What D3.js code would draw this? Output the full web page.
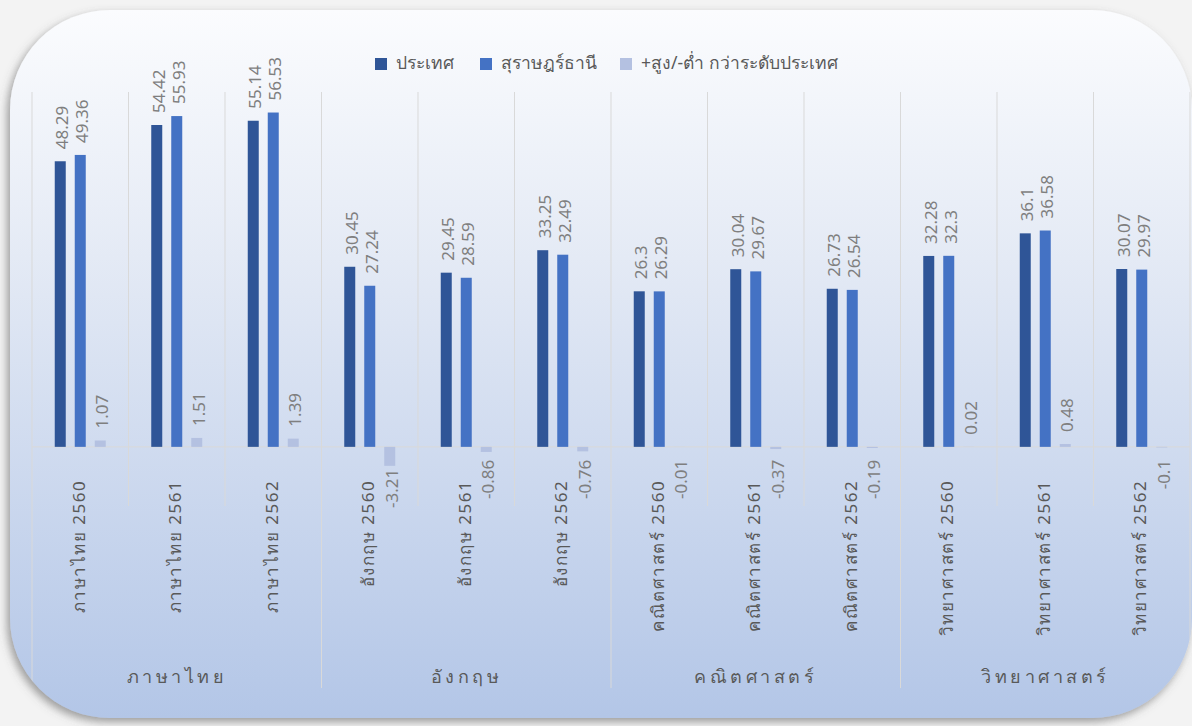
<!DOCTYPE html>
<html>
<head>
<meta charset="utf-8">
<script src="https://cdn.jsdelivr.net/npm/d3@7"></script>
<style>
  html, body { margin: 0; padding: 0; background: #f3f3f3; }
  svg { display: block; }
</style>
</head>
<body>
<div id="chart"></div>
<script>
const categories = [
  "ภาษาไทย 2560", "ภาษาไทย 2561", "ภาษาไทย 2562",
  "อังกฤษ 2560", "อังกฤษ 2561", "อังกฤษ 2562",
  "คณิตศาสตร์ 2560", "คณิตศาสตร์ 2561", "คณิตศาสตร์ 2562",
  "วิทยาศาสตร์ 2560", "วิทยาศาสตร์ 2561", "วิทยาศาสตร์ 2562"
];
const groups = ["ภาษาไทย", "อังกฤษ", "คณิตศาสตร์", "วิทยาศาสตร์"];
const seriesNames = ["ประเทศ", "สุราษฎร์ธานี", "+สูง/-ต่ำ กว่าระดับประเทศ"];
const national = [48.29, 54.42, 55.14, 30.45, 29.45, 33.25, 26.3, 30.04, 26.73, 32.28, 36.1, 30.07];
const surat = [49.36, 55.93, 56.53, 27.24, 28.59, 32.49, 26.29, 29.67, 26.54, 32.3, 36.58, 29.97];
const diff = [1.07, 1.51, 1.39, -3.21, -0.86, -0.76, -0.01, -0.37, -0.19, 0.02, 0.48, -0.1];

const W = 1192, H = 726;
const colors = ["#2f5597", "#4472c4", "#b4c1e1"];
const labelFont = '"Noto Sans", "Open Sans", sans-serif';

const svg = d3.select("#chart").append("svg")
  .attr("width", W).attr("height", H).attr("viewBox", `0 0 ${W} ${H}`);

const defs = svg.append("defs");
const grad = defs.append("linearGradient").attr("id", "bg").attr("x1", 0).attr("y1", 0).attr("x2", 0).attr("y2", 1);
grad.append("stop").attr("offset", 0).attr("stop-color", "#fbfcfe");
grad.append("stop").attr("offset", 0.35).attr("stop-color", "#e4eaf5");
grad.append("stop").attr("offset", 1).attr("stop-color", "#b3c6e7");

const shadow = defs.append("filter").attr("id", "shadow")
  .attr("x", -0.05).attr("y", -0.05).attr("width", 1.1).attr("height", 1.1);
shadow.append("feDropShadow").attr("dx", -3).attr("dy", 4).attr("stdDeviation", 4)
  .attr("flood-color", "#555").attr("flood-opacity", 0.55);

const frame = {x: 10, y: 10, w: 1182, h: 708, r: 100};
defs.append("clipPath").attr("id", "clip").append("rect")
  .attr("x", frame.x).attr("y", frame.y).attr("width", frame.w).attr("height", frame.h)
  .attr("rx", frame.r);

svg.append("rect")
  .attr("x", frame.x).attr("y", frame.y).attr("width", frame.w).attr("height", frame.h)
  .attr("rx", frame.r).attr("fill", "url(#bg)").attr("filter", "url(#shadow)");

const g = svg.append("g").attr("clip-path", "url(#clip)");

const x = d3.scaleBand().domain(categories).range([32, 1190]);
const xs = d3.scalePoint().domain([0, 1, 2]).range([-20, 20]);
const y = d3.scaleLinear().domain([-10, 60]).range([506, 92]);
const barW = 11;

// grid / separators
const bounds = d3.range(categories.length + 1);
g.append("g").selectAll("line").data(bounds).join("line")
  .attr("x1", i => 32 + i * x.step()).attr("x2", i => 32 + i * x.step())
  .attr("y1", y(60))
  .attr("y2", i => (i % 3 === 0 ? 688 : y(-10)))
  .attr("stroke", "#d9d9d9").attr("stroke-width", 1);

g.append("line")
  .attr("x1", 32).attr("x2", 1190).attr("y1", y(0)).attr("y2", y(0))
  .attr("stroke", "#d9d9d9").attr("stroke-width", 1);

// bars
const series = [national, surat, diff];
series.forEach((vals, s) => {
  const rows = vals.map((v, i) => ({v, c: categories[i]}));
  g.append("g").selectAll("rect").data(rows).join("rect")
    .attr("x", d => x(d.c) + x.bandwidth() / 2 + xs(s) - barW / 2)
    .attr("width", barW)
    .attr("y", d => y(Math.max(0, d.v)))
    .attr("height", d => Math.abs(y(d.v) - y(0)))
    .attr("fill", colors[s]);

  g.append("g").selectAll("text").data(rows).join("text")
    .attr("transform", d => {
      const cx = x(d.c) + x.bandwidth() / 2 + xs(s) + 1.5;
      const ty = d.v >= 0 ? y(d.v) - 12 : Math.max(y(d.v) + 3, y(0) + 13);
      return `translate(${cx},${ty}) rotate(-90)`;
    })
    .attr("text-anchor", d => (d.v >= 0 ? "start" : "end"))
    .attr("dominant-baseline", "central")
    .attr("font-family", labelFont)
    .attr("font-size", 17)
    .attr("fill", "#7f7f7f")
    .text(d => String(d.v));
});

// category labels
g.append("g").selectAll("text").data(categories).join("text")
  .attr("transform", d => `translate(${x(d) + x.bandwidth() / 2 - 2},${y(0) + 33}) rotate(-90)`)
  .attr("text-anchor", "end")
  .attr("dominant-baseline", "central")
  .attr("font-family", labelFont)
  .attr("font-size", 17)
  .attr("letter-spacing", 1.5)
  .attr("fill", "#595959")
  .text(d => d);

// group labels
g.append("g").selectAll("text").data(groups).join("text")
  .attr("x", (d, i) => 32 + (i * 3 + 1.5) * x.step())
  .attr("y", 683)
  .attr("text-anchor", "middle")
  .attr("font-family", labelFont)
  .attr("font-size", 18)
  .attr("letter-spacing", 3.5)
  .attr("fill", "#595959")
  .text(d => d);

// legend
const legendX = [375, 480, 620];
const legend = svg.append("g").selectAll("g").data(seriesNames).join("g")
  .attr("transform", (d, i) => `translate(${legendX[i]},58)`);
legend.append("rect").attr("width", 12).attr("height", 12).attr("fill", (d, i) => colors[i]);
legend.append("text").attr("x", 21).attr("y", 11)
  .attr("font-family", labelFont).attr("font-size", 17.5).attr("fill", "#595959")
  .text(d => d);
</script>
</body>
</html>
